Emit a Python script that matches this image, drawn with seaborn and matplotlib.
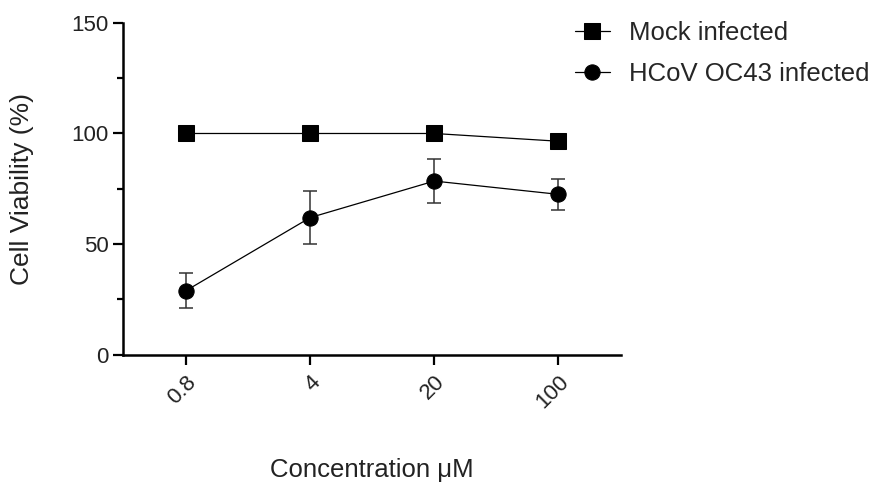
import numpy as np
import pandas as pd
import matplotlib
matplotlib.use('Agg')
import matplotlib.pyplot as plt
import seaborn as sns

# DATA
conc = [0.8, 4, 20, 100]
conc_labels = ['0.8', '4', '20', '100']
mock = [100, 100, 100, 96.5]
mock_err = [0.8, 0.8, 1.0, 3.0]
hcov = [29, 62, 78.5, 72.5]
hcov_err = [8, 12, 10, 7]

sns.set_style('ticks')
plt.rcParams['font.family'] = ['Liberation Sans', 'DejaVu Sans']

fig = plt.figure(figsize=(8.85, 4.86), dpi=100)
ax = fig.add_axes([0.139, 0.27, 0.563, 0.683])

df = pd.DataFrame({'conc': conc * 2,
                   'val': mock + hcov,
                   'err': mock_err + hcov_err,
                   'group': ['Mock infected'] * 4 + ['HCoV OC43 infected'] * 4})

for name, mk in [('Mock infected', 's'), ('HCoV OC43 infected', 'o')]:
    d = df[df['group'] == name]
    ax.errorbar(d['conc'], d['val'], yerr=d['err'], fmt='none', ecolor='#333333',
                elinewidth=1.1, capsize=5, capthick=1.1, zorder=2)
    sns.lineplot(data=d, x='conc', y='val', marker=mk, markersize=11, color='black',
                 linewidth=0.9, markeredgecolor='black', ax=ax, label=name, zorder=3)

ax.set_xscale('log')
ax.set_xlim(0.353, 226)
ax.set_xticks(conc)
ax.set_xticklabels(conc_labels, rotation=45, ha='right', rotation_mode='anchor')
ax.minorticks_off()
ax.set_ylim(0, 150)
ax.set_yticks([0, 50, 100, 150])
ax.set_yticks([25, 75, 125], minor=True)
ax.tick_params(axis='both', which='major', labelsize=16, width=1.6, length=7,
               color='black', labelcolor='#222222')
ax.tick_params(axis='y', which='minor', width=1.6, length=4, color='black')
ax.tick_params(axis='x', pad=5)
for s in ['left', 'bottom']:
    ax.spines[s].set_linewidth(1.8)
    ax.spines[s].set_color('black')
sns.despine(ax=ax)

ax.set_xlabel('Concentration μM', fontsize=18.5, color='#222222')
ax.set_ylabel('Cell Viability (%)', fontsize=19, color='#222222')
ax.xaxis.set_label_coords(0.5, -0.31)
ax.yaxis.set_label_coords(-0.178, 0.5)

ax.legend(loc='upper left', bbox_to_anchor=(575 / 885, 0.957),
          bbox_transform=fig.transFigure, frameon=False, fontsize=18.5,
          handlelength=1.36, handletextpad=0.74, labelspacing=0.65,
          borderaxespad=0, borderpad=0)

fig.savefig('out.png', dpi=100)
